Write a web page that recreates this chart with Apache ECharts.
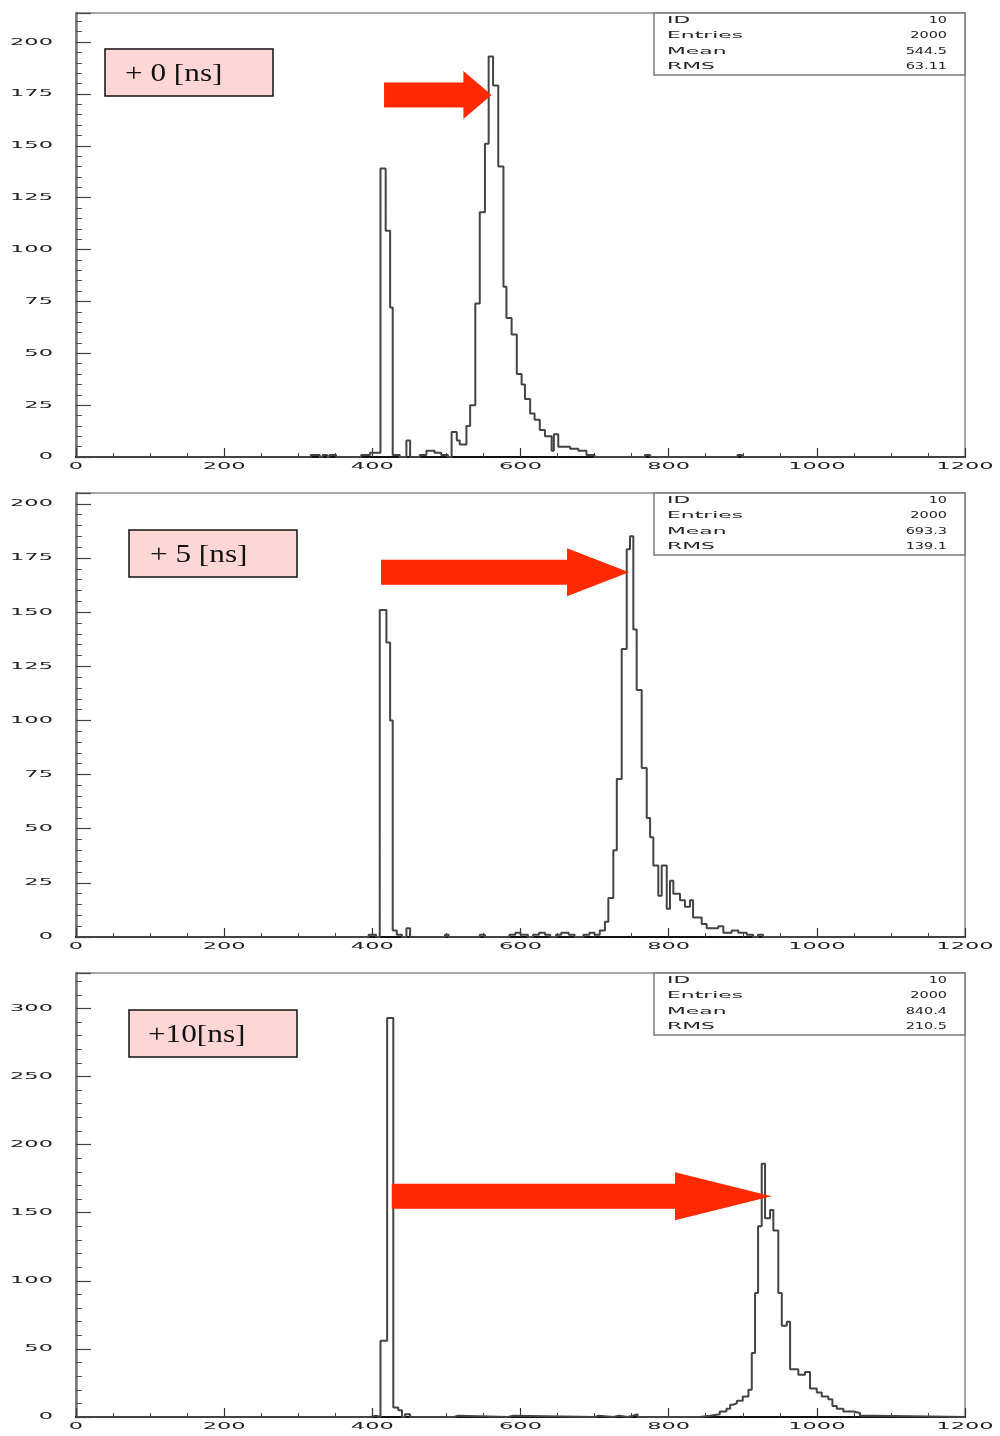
<!DOCTYPE html>
<html>
<head>
<meta charset="utf-8">
<script src="https://cdn.jsdelivr.net/npm/echarts@6/dist/echarts.min.js"></script>
<style>
  html, body { margin: 0; padding: 0; background: #fff; }
  #chart { width: 1000px; height: 1436px; }
</style>
</head>
<body>
<div id="chart"></div>
<script>
// TDC spectra (ID 10) for three added delays: +0, +5 and +10 ns.
// Each spectrum is stored as step edges (channel) and the count that holds from that edge on.

const xTicks = [0, 200, 400, 600, 800, 1000, 1200];
const yTicks0ns = [0, 25, 50, 75, 100, 125, 150, 175, 200];
const yTicks5ns = [0, 25, 50, 75, 100, 125, 150, 175, 200];
const yTicks10ns = [0, 50, 100, 150, 200, 250, 300];

const delayLabels = ['+ 0 [ns]', '+ 5 [ns]', '+10[ns]'];

const statNames = ['ID', 'Entries', 'Mean', 'RMS'];
const stats0ns = ['10', '2000', '544.5', '63.11'];
const stats5ns = ['10', '2000', '693.3', '139.1'];
const stats10ns = ['10', '2000', '840.4', '210.5'];

const edges0ns = [0, 317, 329, 333, 339, 342, 351, 385, 397, 411, 418, 424, 427.5, 437, 446, 451,
  464, 473, 484, 493, 502, 507, 514, 518, 527, 532, 539, 545, 552, 557, 563, 570, 577, 581, 588,
  595, 601.5, 606, 613, 619, 626, 633, 642, 645, 651, 667, 678, 689, 700, 768, 775, 893, 899, 1200];
const counts0ns = [0, 1, 0, 1, 0, 1, 0, 1, 2, 139, 109, 72, 1, 0, 8, 0,
  1, 3, 2, 1, 0, 12, 8, 6, 15, 25, 74, 118, 151, 193, 179, 140, 82, 67, 59,
  40, 35, 28, 21, 18, 13, 10, 3, 11, 5, 4, 3, 1, 0, 1, 0, 1, 0, 0];

const edges5ns = [0, 395, 405, 410, 419, 424, 427.5, 433, 440, 446, 451, 498, 503, 545, 552,
  585, 593, 600, 610, 617, 625, 633, 640, 648, 655, 665, 673, 685, 693, 700, 707, 714, 718.6,
  725.3, 730, 736.6, 743.4, 747.8, 752.3, 756.8, 763.6, 770.4, 774.9, 779.3, 786, 790.6, 797.4,
  801.8, 806.3, 815.3, 822, 828.8, 832.9, 844.6, 851.3, 867, 873.8, 885, 894, 905.4, 914, 920.6,
  927.4, 1200];
const counts5ns = [0, 1, 0, 151, 136, 100, 3, 1, 0, 4, 0, 1, 0, 1, 0,
  1, 2, 1, 0, 1, 2, 1, 0, 1, 2, 1, 0, 1, 2, 1, 3, 7, 18,
  40, 73, 133, 179, 185, 142, 114, 78, 55, 46, 33, 19, 33, 13,
  26, 20, 17, 14, 17, 9, 6, 4, 5, 2, 3, 2, 1, 0, 1,
  0, 0];

const edges10ns = [0, 397, 405, 411, 420, 428.3, 435, 440, 444, 451, 510, 516, 583, 590, 700, 706,
  725, 733, 745, 752, 758, 842, 856, 869, 878, 883, 887, 892, 900, 907.7, 912.2, 916.6, 920.7,
  925.6, 930.1, 936.9, 941.3, 948, 952.7, 959.4, 963.9, 975, 984.1, 990.8, 999.9, 1006.6, 1015.5,
  1021, 1026.9, 1035.8, 1049.3, 1058.3, 1076, 1200];
const counts10ns = [0, 1, 0, 56, 293, 7, 5, 0, 2, 0, 1, 0, 1, 0, 1, 0,
  1, 0, 1, 2, 0, 1, 2, 4, 6, 9, 10, 12, 15, 20, 47, 91, 140,
  186, 146, 152, 137, 91, 67, 70, 35, 31, 33, 21, 18, 15, 13,
  8, 6, 4, 3, 1, 0, 0];

// Red arrows pointing from the prompt peak to the delayed peak (channel units / counts).
const arrowTail = [415.8, 411.7, 426.2];
const arrowHeadBase = [522.9, 662.8, 808.6];
const arrowTip = [[561, 174.5], [746.5, 168.4], [938.9, 162.1]];

// ---- layout ----
const gridTops = [13, 493, 973];
const plotLeft = 76, plotWidth = 889, plotHeight = 444;
const yMaxes = [214, 205, 326];
const yIntervals = [25, 25, 50];
const labelBoxes = [[105, 49, 20], [129, 530, 21], [129, 1010, 19]];

const panels = [
  { edges: edges0ns, counts: counts0ns, yTicks: yTicks0ns, stats: stats0ns },
  { edges: edges5ns, counts: counts5ns, yTicks: yTicks5ns, stats: stats5ns },
  { edges: edges10ns, counts: counts10ns, yTicks: yTicks10ns, stats: stats10ns }
];

const chart = echarts.init(document.getElementById('chart'), null, { renderer: 'canvas' });

const option = {
  animation: false,
  backgroundColor: '#fff',
  grid: gridTops.map(top => ({
    left: plotLeft, top: top, width: plotWidth, height: plotHeight,
    show: true, borderColor: '#8a8a8a', borderWidth: 1.5, backgroundColor: 'transparent'
  })),
  xAxis: panels.map((p, i) => ({
    type: 'value', gridIndex: i, min: 0, max: 1200, interval: 200,
    axisLine: { show: true, onZero: false, lineStyle: { color: '#111', width: 2 } },
    axisTick: { show: true, inside: true, length: 9, lineStyle: { color: '#333', width: 1.2 } },
    minorTick: { show: true, splitNumber: 4, length: 4, lineStyle: { color: '#444', width: 1 } },
    axisLabel: { show: false },
    splitLine: { show: false }
  })),
  yAxis: panels.map((p, i) => ({
    type: 'value', gridIndex: i, min: 0, max: yMaxes[i], interval: yIntervals[i],
    axisLine: { show: true, lineStyle: { color: '#777', width: 2.5 } },
    axisTick: { show: true, inside: true, length: 15, lineStyle: { color: '#444', width: 1.2 } },
    minorTick: { show: true, splitNumber: 5, length: 6, lineStyle: { color: '#555', width: 1 } },
    axisLabel: { show: false },
    splitLine: { show: false }
  })),
  series: panels.map((p, i) => ({
    type: 'line', xAxisIndex: i, yAxisIndex: i, step: 'end',
    showSymbol: false, symbol: 'none', silent: true,
    lineStyle: { color: '#444', width: 2 },
    data: p.edges.map((x, k) => [x, p.counts[k]])
  }))
};
chart.setOption(option);

function txt(x, y, text, font, align, sx, fill) {
  return {
    type: 'text', x: x, y: y, scaleX: sx, z: 60, silent: true,
    style: {
      text: text, font: font, fill: fill || '#222',
      align: align, textAlign: align, verticalAlign: 'middle', textVerticalAlign: 'middle'
    }
  };
}

const axisFont = '9.5px "DejaVu Sans"';
const graphics = [];
panels.forEach((p, i) => {
  const top = gridTops[i];
  // tick labels
  p.yTicks.forEach(v => {
    const py = chart.convertToPixel({ gridIndex: i }, [0, v])[1];
    graphics.push(txt(53, py, String(v), axisFont, 'right', 2.37));
  });
  xTicks.forEach(v => {
    const pt = chart.convertToPixel({ gridIndex: i }, [v, 0]);
    graphics.push(txt(pt[0], pt[1] + 10, String(v), axisFont, 'center', 2.37));
  });
  // statistics box
  graphics.push({
    type: 'rect', z: 55, silent: true,
    shape: { x: 654, y: top, width: 311, height: 62 },
    style: { fill: '#fff', stroke: '#7a7a7a', lineWidth: 1.5 }
  });
  const rowY = [7.5, 23, 38.5, 54];
  statNames.forEach((name, r) => {
    graphics.push(txt(667, top + rowY[r], name, axisFont, 'left', 2.3));
    graphics.push(txt(947, top + rowY[r], p.stats[r], axisFont, 'right', 1.52));
  });
  // delay label
  const lb = labelBoxes[i];
  graphics.push({
    type: 'rect', z: 55, silent: true,
    shape: { x: lb[0], y: lb[1], width: 168, height: 47 },
    style: { fill: '#ffd6d6', stroke: '#111', lineWidth: 1.5 }
  });
  graphics.push(txt(lb[0] + lb[2], lb[1] + 25, delayLabels[i], '25px "Liberation Serif"', 'left', 1.25, '#111'));
  // arrow
  const tip = chart.convertToPixel({ gridIndex: i }, arrowTip[i]);
  const tailX = chart.convertToPixel({ gridIndex: i }, [arrowTail[i], 0])[0];
  const baseX = chart.convertToPixel({ gridIndex: i }, [arrowHeadBase[i], 0])[0];
  const sh = 12.5, hh = 24;
  graphics.push({
    type: 'polygon', z: 70, silent: true,
    shape: {
      points: [
        [tailX, tip[1] - sh], [baseX, tip[1] - sh], [baseX, tip[1] - hh], [tip[0], tip[1]],
        [baseX, tip[1] + hh], [baseX, tip[1] + sh], [tailX, tip[1] + sh]
      ]
    },
    style: { fill: '#ff2a00' }
  });
});

chart.setOption({ graphic: { elements: graphics } });
</script>
</body>
</html>
